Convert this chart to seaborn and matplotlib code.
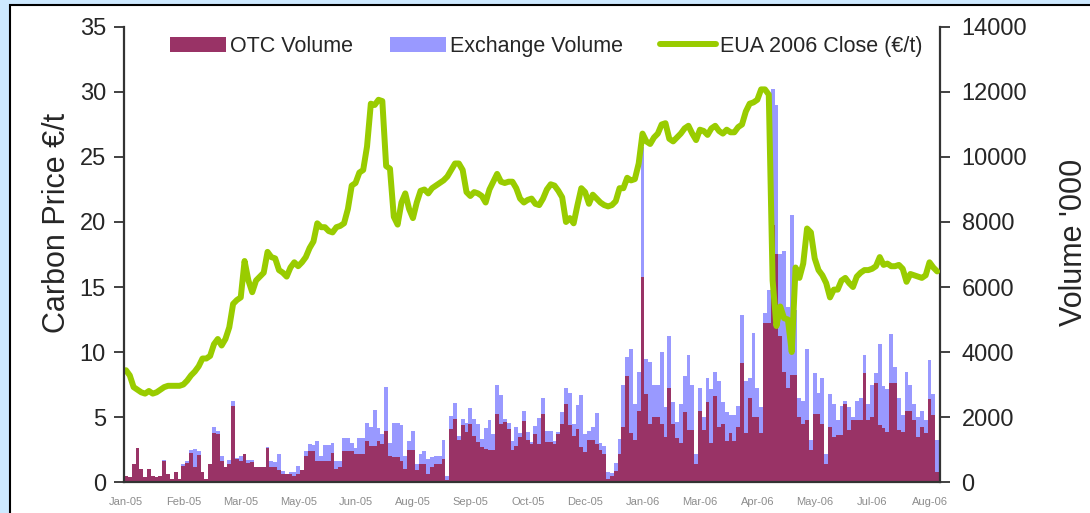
import pandas as pd
import seaborn as sns
import matplotlib.pyplot as plt
from matplotlib.patches import Patch, Rectangle
from matplotlib.lines import Line2D

# one point per two trading days, Jan-05 .. Aug-06
tick_labels = ["Jan-05", "Feb-05", "Mar-05", "May-05", "Jun-05", "Aug-05", "Sep-05", "Oct-05",
               "Dec-05", "Jan-06", "Mar-06", "Apr-06", "May-06", "Jul-06", "Aug-06"]

eua_close = [
    8.6, 8.2, 7.3, 7.1, 6.9, 6.8, 7.0, 6.8, 6.9, 7.1, 7.3, 7.4, 7.4, 7.4, 7.4, 7.5, 7.8, 8.2, 8.5, 8.9,
    9.5, 9.5, 9.7, 10.6, 11.0, 10.5, 11.0, 11.9, 13.7, 14.0, 14.2, 17.0, 15.5, 14.6, 15.5, 15.8, 16.1, 17.7, 17.3, 17.2,
    16.3, 16.1, 15.8, 16.5, 16.9, 16.6, 16.9, 17.3, 18.0, 18.5, 19.9, 19.6, 19.6, 19.3, 19.2, 19.6, 19.7, 19.9, 21.0, 22.8,
    23.0, 23.8, 24.0, 25.8, 29.1, 29.0, 29.4, 29.3, 24.3, 24.1, 20.4, 19.8, 21.5, 22.2, 21.0, 20.3, 21.5, 22.4, 22.5, 22.2,
    22.6, 22.8, 23.0, 23.2, 23.5, 24.0, 24.5, 24.5, 24.0, 22.3, 22.0, 22.3, 22.2, 22.0, 21.5, 22.5, 23.1, 23.7, 23.1, 23.0,
    23.1, 23.1, 22.6, 21.8, 21.5, 21.7, 21.8, 21.4, 21.3, 21.8, 22.5, 22.9, 22.8, 22.4, 21.9, 20.0, 20.3, 19.9, 21.3, 22.6,
    22.3, 21.4, 22.1, 21.8, 21.5, 21.3, 21.2, 21.3, 21.6, 22.6, 22.6, 23.4, 23.2, 23.3, 24.5, 26.8, 26.2, 26.0, 26.5, 26.8,
    27.5, 27.6, 26.4, 26.2, 26.5, 26.8, 27.2, 27.4, 26.8, 26.3, 27.1, 27.0, 26.7, 27.2, 27.4, 27.0, 26.8, 27.1, 26.9, 26.9,
    27.3, 27.5, 28.5, 29.1, 29.2, 29.4, 30.2, 30.2, 29.8, 15.5, 12.0, 13.5, 12.6, 12.5, 10.0, 16.5, 15.7, 16.8, 19.5, 19.2,
    17.2, 16.3, 15.9, 15.3, 14.2, 14.8, 14.8, 15.5, 15.7, 15.3, 15.0, 15.8, 16.1, 16.3, 16.3, 16.4, 16.6, 17.3, 16.7, 16.8,
    16.6, 16.6, 16.7, 16.4, 15.4, 16.0, 15.9, 15.8, 15.7, 15.9, 16.9, 16.5, 16.2,
]

otc_volume = [
    200, 150, 560, 1050, 400, 150, 400, 200, 150, 200, 650, 250, 100, 300, 100, 500, 600, 900, 460, 820,
    300, 100, 560, 1500, 1490, 650, 460, 560, 2340, 700, 650, 870, 600, 610, 460, 460, 460, 1050, 460, 460,
    360, 250, 250, 250, 200, 250, 360, 800, 960, 950, 650, 650, 650, 650, 900, 400, 450, 950, 950, 950,
    850, 850, 850, 1270, 1120, 1120, 1270, 1170, 1580, 800, 770, 770, 660, 410, 970, 970, 360, 560, 560, 260,
    460, 560, 560, 720, 50, 1630, 1940, 1280, 1740, 1530, 1790, 1430, 1230, 1070, 1020, 970, 970, 2080, 1790, 1840,
    1630, 970, 1120, 1370, 1890, 1280, 1170, 1480, 1170, 2080, 1230, 1230, 1170, 1480, 1790, 2400, 1740, 1430, 1630, 1070,
    920, 1280, 1280, 1170, 1000, 860, 100, 190, 350, 860, 1700, 3250, 1500, 1300, 2200, 6300, 2700, 1800, 2000, 2000,
    1800, 1400, 2900, 1800, 1350, 1200, 2150, 1600, 1600, 550, 2200, 1600, 2450, 1200, 2650, 1700, 1800, 1250, 1500, 1250,
    1700, 3650, 1500, 2600, 2000, 2000, 1500, 4900, 4900, 7900, 7000, 4500, 3400, 2900, 3300, 3300, 2000, 1800, 1900, 1000,
    2100, 2100, 1800, 550, 1700, 1400, 1450, 1450, 2400, 1600, 1900, 1900, 1900, 3350, 1900, 2000, 3050, 1750, 1650, 1550,
    3050, 3050, 1600, 1550, 2200, 2200, 1900, 1400, 1700, 1500, 2550, 2050, 300,
]

exchange_volume = [
    0, 0, 0, 0, 0, 0, 0, 0, 0, 0, 40, 0, 0, 0, 0, 50, 50, 80, 560, 120,
    0, 0, 0, 190, 70, 150, 0, 130, 140, 50, 150, 0, 80, 80, 0, 0, 0, 40, 200, 150,
    500, 100, 0, 50, 100, 250, 0, 150, 200, 200, 600, 150, 500, 500, 300, 250, 200, 400, 400, 250,
    200, 500, 500, 560, 560, 1100, 400, 300, 1350, 400, 1050, 1050, 1100, 400, 300, 600, 200, 300, 400, 460,
    300, 250, 250, 560, 150, 400, 500, 150, 200, 300, 500, 500, 560, 250, 650, 950, 500, 900, 900, 100,
    200, 300, 560, 150, 300, 250, 50, 250, 800, 500, 350, 350, 100, 50, 350, 500, 1000, 350, 750, 1600,
    550, 300, 400, 950, 200, 250, 200, 100, 250, 450, 1300, 600, 2600, 1100, 1200, 4000, 1100, 1900, 1000, 1000,
    2200, 900, 1600, 650, 500, 1200, 1100, 2300, 1400, 300, 700, 400, 750, 1650, 750, 1400, 650, 900, 550, 800,
    650, 1500, 1600, 600, 2600, 900, 800, 300, 1000, 4200, 4600, 2500, 3700, 2500, 4900, 2000, 600, 700, 2200, 300,
    1250, 650, 1400, 300, 1000, 1000, 450, 900, 100, 700, 100, 600, 700, 550, 500, 1000, 300, 2500, 1300, 1300,
    1500, 500, 1000, 500, 1200, 800, 500, 600, 500, 400, 1200, 650, 1000,
]

sns.set_style("white")
plt.rcParams['font.family'] = ['Liberation Sans', 'DejaVu Sans']

df = pd.DataFrame({
    "day": range(len(eua_close)),
    "close": eua_close,
    "otc": otc_volume,
    "exchange": exchange_volume,
})
df["total"] = df["otc"] + df["exchange"]

maroon = "#993366"
lavender = "#9999ff"
green = "#99cc00"
axis_col = "#333333"

fig = plt.figure(figsize=(10.9, 5.13), dpi=100, facecolor="#cde9ff")
# white slide panel with its black border
fig.patches.append(Rectangle((0.0092, -0.05), 1.2, 1.0403, transform=fig.transFigure,
                             facecolor="white", edgecolor="black", linewidth=1.5, zorder=-1))

ax = fig.add_axes([0.1138, 0.0604, 0.7486, 0.887])
ax2 = ax.twinx()

# stacked volume bars: total first, OTC drawn over it
sns.barplot(data=df, x="day", y="total", color=lavender, saturation=1, width=1.0,
            linewidth=0, errorbar=None, ax=ax2)
sns.barplot(data=df, x="day", y="otc", color=maroon, saturation=1, width=1.0,
            linewidth=0, errorbar=None, ax=ax2)
sns.lineplot(data=df, x="day", y="close", color=green, linewidth=4.3, ax=ax)

ax.set_zorder(ax2.get_zorder() + 1)
ax.patch.set_visible(False)

ax.set_ylim(0, 35)
ax.set_yticks(range(0, 36, 5))
ax2.set_ylim(0, 14000)
ax2.set_yticks(range(0, 14001, 2000))
ax.set_xlim(-0.5, len(df) - 0.25)
ax.set_xticks(range(0, len(df), 15))
ax.set_xticklabels(tick_labels)

ax.tick_params(axis="y", direction="out", length=7, width=1.3, color=axis_col,
               labelsize=17, pad=6)
ax2.tick_params(axis="y", direction="out", length=7, width=1.3, color=axis_col,
                labelsize=17, pad=8.5)
ax.tick_params(axis="x", length=0, labelsize=8, labelcolor="#8c8c8c", pad=11)

for a in (ax, ax2):
    for s in a.spines.values():
        s.set_visible(False)
        s.set_color(axis_col)
        s.set_linewidth(1.6)
ax.spines["left"].set_visible(True)
ax.spines["bottom"].set_visible(True)
ax2.spines["right"].set_visible(True)

ax.set_xlabel("")
ax2.set_xlabel("")
ax.set_ylabel("Carbon Price €/t", fontsize=22)
ax.yaxis.set_label_coords(-0.064, 0.569)
ax2.set_ylabel("Volume '000", fontsize=22)
ax2.yaxis.set_label_coords(1.146, 0.527)

handles = [
    Patch(facecolor=maroon, edgecolor="none"),
    Patch(facecolor=lavender, edgecolor="none"),
    Line2D([0], [0], color=green, linewidth=4.3),
]
fig.legend(handles, ["OTC Volume", "Exchange Volume", "EUA 2006 Close (€/t)"],
           loc="upper center", bbox_to_anchor=(0.501, 0.968), ncol=3, frameon=False,
           fontsize=15.5, handlelength=2.6, handleheight=0.7, handletextpad=0.2,
           columnspacing=1.7)

fig.savefig("out.png", dpi=100, facecolor=fig.get_facecolor())
